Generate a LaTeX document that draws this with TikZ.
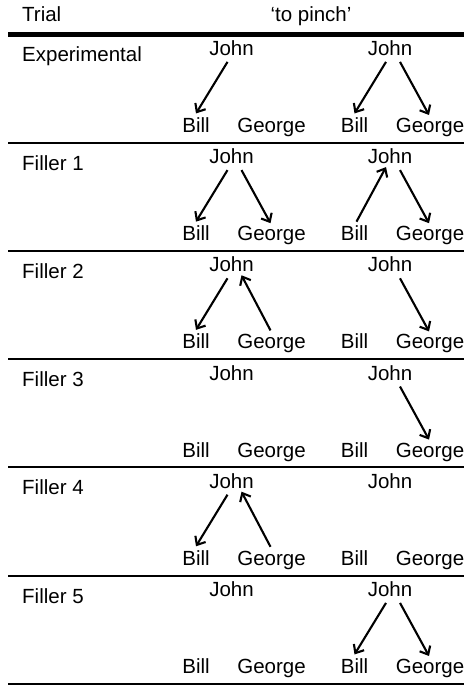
\documentclass[tikz,border=0pt]{standalone}
\usepackage{fontspec}
\setmainfont{Liberation Sans}
\usetikzlibrary{arrows.meta}

\tikzset{
	word/.style={anchor=base,inner sep=0pt,font=\fontsize{20.5}{24}\selectfont},
	trial/.style={word,anchor=base west},
	link/.style={line width=2.1pt,-{Straight Barb[length=7pt,width=12pt]}},
	rule/.style={line width=2pt},
	toprule/.style={line width=4.2pt}
}

% John on top, Bill and George below (name, x of John, top of row)
\newcommand\trio[3]{
	\node[word] (#1j) at (#2,#3+21) {John};
	\node[word] (#1b) at (#2-35.5,#3+98) {Bill};
	\node[word] (#1g) at (#2+40,#3+98) {George};
}
\def\jb#1{\draw[link] ([xshift=-4pt,yshift=-6pt]#1j.south) -- ([yshift=4pt]#1b.north);}
\def\jg#1{\draw[link] ([xshift=10pt,yshift=-6pt]#1j.south) -- ([xshift=-1pt,yshift=3pt]#1g.north);}
\def\bj#1{\draw[link] ([xshift=2pt,yshift=4pt]#1b.north) -- ([xshift=-4pt,yshift=-3pt]#1j.south);}
\def\gj#1{\draw[link] ([xshift=-1pt,yshift=4pt]#1g.north) -- ([xshift=10pt,yshift=-3pt]#1j.south);}

\begin{document}
\begin{tikzpicture}[x=1pt,y=-1pt]
			\useasboundingbox (0,0) rectangle (464,685);

			% header
			\node[trial] (head) at (22,21.7) {Trial};
			\node[word] (verb) at (311,22) {‘to pinch’};
			\draw[toprule] (8,34.5) -- (464,34.5);

			% Experimental
			\node[trial] (exp) at (22,62) {Experimental};
			\trio{el}{231.5}{34.5}
			\trio{er}{390}{34.5}
			\jb{el}
			\jb{er} \jg{er}
			\draw[rule] (8,142.7) -- (464,142.7);

			% Filler 1
			\node[trial] (fa) at (22,170.2) {Filler 1};
			\trio{al}{231.5}{142.7}
			\trio{ar}{390}{142.7}
			\jb{al} \jg{al}
			\bj{ar} \jg{ar}
			\draw[rule] (8,250.9) -- (464,250.9);

			% Filler 2
			\node[trial] (fb) at (22,278.4) {Filler 2};
			\trio{bl}{231.5}{250.9}
			\trio{br}{390}{250.9}
			\jb{bl} \gj{bl}
			\jg{br}
			\draw[rule] (8,359.1) -- (464,359.1);

			% Filler 3
			\node[trial] (fc) at (22,386.6) {Filler 3};
			\trio{cl}{231.5}{359.1}
			\trio{cr}{390}{359.1}
			\jg{cr}
			\draw[rule] (8,467.3) -- (464,467.3);

			% Filler 4
			\node[trial] (fd) at (22,494.8) {Filler 4};
			\trio{dl}{231.5}{467.3}
			\trio{dr}{390}{467.3}
			\jb{dl} \gj{dl}
			\draw[rule] (8,575.5) -- (464,575.5);

			% Filler 5
			\node[trial] (fe) at (22,603) {Filler 5};
			\trio{fl}{231.5}{575.5}
			\trio{fr}{390}{575.5}
			\jb{fr} \jg{fr}
			\draw[rule] (8,683.5) -- (464,683.5);
		\end{tikzpicture}
\end{document}
